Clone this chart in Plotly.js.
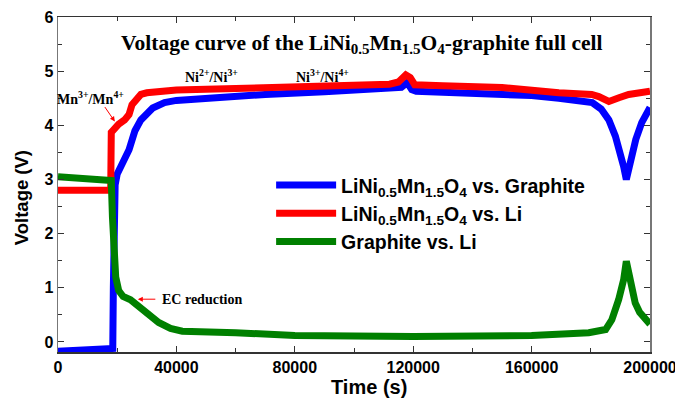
<!DOCTYPE html>
<html>
<head>
<meta charset="utf-8">
<script src="https://cdn.plot.ly/plotly-3.0.1.min.js"></script>
<style>html,body{margin:0;padding:0;background:#fff;}#chart{width:675px;height:404px;}</style>
</head>
<body>
<div id="chart"></div>
<script>
// LiNi0.5Mn1.5O4 vs. Graphite (full cell)
const blueT = [0, 17500, 18500, 18700, 18900, 19300, 20000, 22000, 24000, 26000, 28000, 32000, 36000, 40000, 50000, 70000, 90000, 110000, 116000, 118000, 119500, 121000, 140000, 160000, 169200, 176000, 180500, 183500, 186100, 188300, 190000, 191100, 192000, 192600, 193500, 195200, 197200, 200000];
const blueV = [-0.17, -0.12, -0.12, 1.0, 2.0, 2.9, 3.1, 3.3, 3.55, 3.9, 4.1, 4.32, 4.42, 4.46, 4.5, 4.57, 4.62, 4.66, 4.7, 4.79, 4.66, 4.63, 4.6, 4.55, 4.5, 4.47, 4.42, 4.3, 4.1, 3.8, 3.5, 3.24, 3.0, 3.15, 3.37, 3.74, 4.05, 4.33];
// LiNi0.5Mn1.5O4 vs. Li
const redT = [0, 17800, 18000, 19000, 20500, 22500, 24000, 25000, 26500, 28000, 30000, 34000, 40000, 60000, 80000, 100000, 112000, 115000, 117500, 119000, 120500, 130000, 150000, 169200, 180300, 182700, 186100, 189500, 192800, 200000];
const redV = [2.8, 2.8, 3.87, 3.95, 4.02, 4.1, 4.2, 4.38, 4.5, 4.57, 4.6, 4.63, 4.65, 4.68, 4.7, 4.74, 4.76, 4.8, 4.93, 4.88, 4.75, 4.73, 4.7, 4.6, 4.57, 4.53, 4.44, 4.51, 4.57, 4.63];
// Graphite vs. Li
const greenT = [0, 18000, 18400, 18800, 19500, 20500, 22000, 24500, 26500, 30000, 34000, 38000, 42000, 60000, 80000, 100000, 120000, 160000, 179300, 185000, 187100, 189400, 191100, 192000, 192700, 193300, 194000, 195000, 196500, 198000, 200000];
const greenV = [3.05, 2.98, 2.3, 1.6, 1.2, 0.95, 0.84, 0.78, 0.7, 0.52, 0.36, 0.25, 0.2, 0.17, 0.12, 0.11, 0.1, 0.12, 0.17, 0.23, 0.41, 0.78, 1.15, 1.49, 1.3, 1.25, 0.95, 0.72, 0.55, 0.45, 0.33];

const names = [
  'LiNi<sub>0.5</sub>Mn<sub>1.5</sub>O<sub>4</sub> vs. Graphite',
  'LiNi<sub>0.5</sub>Mn<sub>1.5</sub>O<sub>4</sub> vs. Li',
  'Graphite vs. Li'
];
const colors = ['#0000ff', '#ff0000', '#008000'];

const traces = [
  {x: blueT, y: blueV, name: names[0], type: 'scatter', mode: 'lines', line: {color: colors[0], width: 7}},
  {x: redT, y: redV, name: names[1], type: 'scatter', mode: 'lines', line: {color: colors[1], width: 7}},
  {x: greenT, y: greenV, name: names[2], type: 'scatter', mode: 'lines', line: {color: colors[2], width: 7}}
];

const serif = 'Liberation Serif, Times New Roman, serif';
const sans = 'Liberation Sans, Arial, sans-serif';
const annFont = {family: serif, size: 14, color: '#000', weight: 'bold'};
const axFont = {family: sans, size: 19.5, color: '#000', weight: 'bold'};

const layout = {
  width: 675, height: 404,
  margin: {l: 58, r: 25, t: 17, b: 51.5},
  paper_bgcolor: '#fff', plot_bgcolor: '#fff',
  showlegend: true,
  legend: {x: 0.36, y: 0.556, xanchor: 'left', yanchor: 'top', bgcolor: 'rgba(0,0,0,0)',
           font: {family: sans, size: 19.5, color: '#000', weight: 'bold'}, itemwidth: 60, tracegroupgap: 0},
  title: {text: 'Voltage curve of the LiNi<sub>0.5</sub>Mn<sub>1.5</sub>O<sub>4</sub>-graphite full cell',
          font: {family: serif, size: 21.5, color: '#000', weight: 'bold'},
          x: 0.513, xanchor: 'center', y: 0.895, yanchor: 'middle', xref: 'paper', yref: 'container'},
  xaxis: {
    range: [0, 200000], tickvals: [0, 40000, 80000, 120000, 160000, 200000],
    ticktext: ['0', '40000', '80000', '120000', '160000', '200000'],
    ticks: 'inside', ticklen: 6, tickcolor: '#333', showline: true, linecolor: '#333', linewidth: 1.5, mirror: 'ticks',
    showgrid: false, zeroline: false, ticklabeloverflow: 'allow',
    minor: {dtick: 20000, tick0: 0, ticks: 'inside', ticklen: 4, tickcolor: '#333', showgrid: false},
    tickfont: {family: sans, size: 16, color: '#000', weight: 'bold'}
  },
  yaxis: {
    range: [-0.185, 6], tickvals: [0, 1, 2, 3, 4, 5, 6],
    ticks: 'inside', ticklen: 6, tickcolor: '#333', showline: true, linecolor: '#777', linewidth: 1.5, mirror: 'ticks',
    showgrid: false, zeroline: false,
    minor: {dtick: 0.5, tick0: 0, ticks: 'inside', ticklen: 4, tickcolor: '#333', showgrid: false},
    tickfont: {family: sans, size: 16, color: '#000', weight: 'bold'}
  },
  annotations: [
    {xref: 'paper', yref: 'paper', x: (369 - 58) / 592, y: (352.5 - 388) / 335.5, text: 'Time (s)', showarrow: false,
     font: {family: sans, size: 20, color: '#000', weight: 'bold'}, xanchor: 'center', yanchor: 'middle'},
    {xref: 'paper', yref: 'paper', x: (21 - 58) / 592, y: (352.5 - 198.5) / 335.5, text: 'Voltage (V)', showarrow: false, textangle: -90,
     font: {family: sans, size: 18.5, color: '#000', weight: 'bold'}, xanchor: 'center', yanchor: 'middle'},
    {x: 19200, y: 4.07, ax: -11, ay: -16, text: '', showarrow: true, arrowcolor: '#ff0000', arrowhead: 2, arrowsize: 1, arrowwidth: 1},
    {x: 11100, y: 4.51, text: 'Mn<sup>3+</sup>/Mn<sup>4+</sup>', showarrow: false, font: annFont, xanchor: 'center'},
    {x: 52000, y: 4.92, text: 'Ni<sup>2+</sup>/Ni<sup>3+</sup>', showarrow: false, font: annFont},
    {x: 89300, y: 4.92, text: 'Ni<sup>3+</sup>/Ni<sup>4+</sup>', showarrow: false, font: annFont},
    {x: 26970, y: 0.79, ax: 19, ay: 0, text: '', showarrow: true, arrowcolor: '#ff0000', arrowhead: 2, arrowsize: 1, arrowwidth: 1},
    {x: 48700, y: 0.78, text: 'EC reduction', showarrow: false, font: annFont}
  ]
};

Plotly.newPlot('chart', traces, layout, {displayModeBar: false, staticPlot: true});
</script>
</body>
</html>
